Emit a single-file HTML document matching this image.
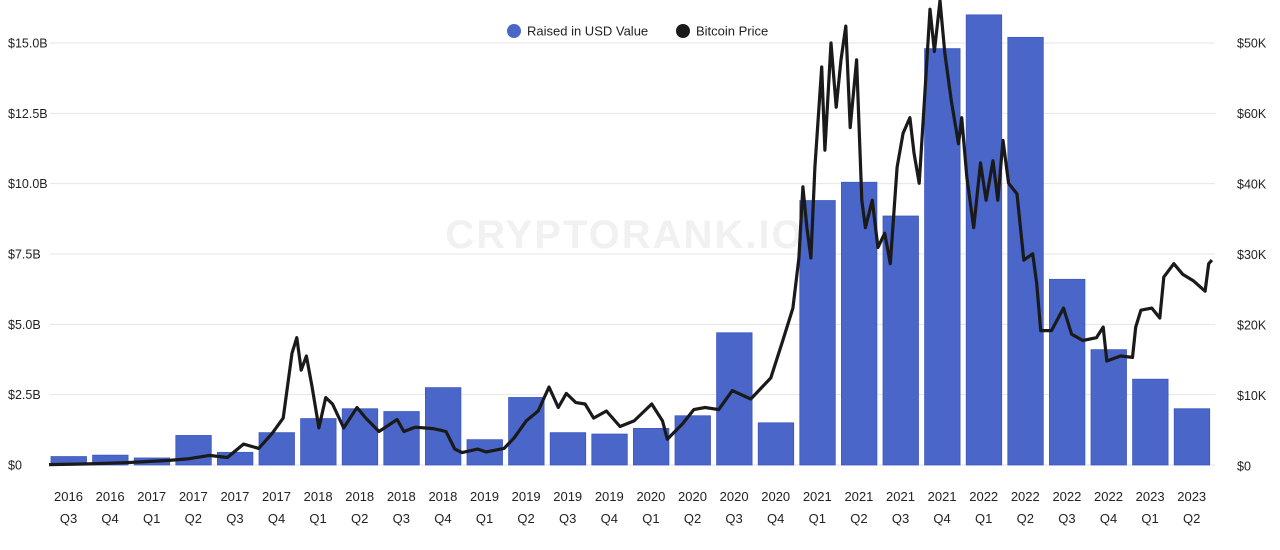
<!DOCTYPE html>
<html><head><meta charset="utf-8"><style>
body{margin:0;background:#fff;width:1280px;height:545px;overflow:hidden;font-family:"Liberation Sans",sans-serif}
svg text{font-family:"Liberation Sans",sans-serif}
</style></head><body>
<svg id="chart" width="1280" height="545" xmlns="http://www.w3.org/2000/svg">
<text x="625" y="248" text-anchor="middle" font-size="40" font-weight="bold" fill="#f1f1f1" letter-spacing="2">CRYPTORANK.IO</text>
<g id="grid"></g><g id="bars"></g><g id="line"></g><g id="axes"></g>
<g>
<g><circle cx="514" cy="31" r="7" fill="#4a66c8"/><text x="527" y="35.5" font-size="13" fill="#222">Raised in USD Value</text></g>
<g><circle cx="683" cy="31" r="7" fill="#1a1a1a"/><text x="696" y="35.5" font-size="13" fill="#222">Bitcoin Price</text></g>
</g>
</svg>
<script>
const years=["2016","2016","2017","2017","2017","2017","2018","2018","2018","2018","2019","2019","2019","2019","2020","2020","2020","2020","2021","2021","2021","2021","2022","2022","2022","2022","2023","2023"];
const quarters=["Q3","Q4","Q1","Q2","Q3","Q4","Q1","Q2","Q3","Q4","Q1","Q2","Q3","Q4","Q1","Q2","Q3","Q4","Q1","Q2","Q3","Q4","Q1","Q2","Q3","Q4","Q1","Q2"];
const raised=[0.3,0.35,0.25,1.05,0.45,1.15,1.65,2.0,1.9,2.75,0.9,2.4,1.15,1.1,1.3,1.75,4.7,1.5,9.4,10.05,8.85,14.8,16.0,15.2,6.6,4.1,3.05,2.0];
const leftTicks=[0,2.5,5,7.5,10,12.5,15];
const leftLabels=["$0","$2.5B","$5.0B","$7.5B","$10.0B","$12.5B","$15.0B"];
const rightTicks=[0,10,20,30,40,50,60];
const rightLabels=["$0","$10K","$20K","$30K","$40K","$60K","$50K"];
const priceT=[0,1,2,3,3.45,4.0,4.45,4.85,5.23,5.56,5.84,6.06,6.18,6.29,6.42,6.56,6.73,6.9,7.07,7.35,7.68,7.9,8.23,8.68,8.85,9.13,9.58,9.9,10.12,10.3,10.69,10.9,11.35,11.6,11.9,12.2,12.47,12.7,12.9,13.14,13.37,13.58,13.9,14.24,14.59,15.03,15.3,15.42,15.8,16.08,16.36,16.7,17.04,17.5,18.0,18.3,18.55,18.7,18.8,18.9,19.0,19.1,19.27,19.35,19.5,19.63,19.75,19.87,19.98,20.14,20.27,20.36,20.53,20.67,20.84,20.98,21.15,21.3,21.47,21.57,21.7,21.83,21.97,22.08,22.22,22.34,22.5,22.68,22.76,22.89,23.06,23.23,23.37,23.54,23.66,23.79,23.93,24.14,24.31,24.53,24.63,24.73,25.0,25.3,25.5,25.78,26.12,26.29,26.38,26.72,27.02,27.1,27.23,27.5,27.7,27.8,28.05,28.27,28.53,28.83,28.92,29.0];
const priceK=[0.2,0.3,0.5,0.8,1.0,1.5,1.2,3.1,2.5,4.6,6.8,16,18.2,13.6,15.6,11.2,5.4,9.7,8.8,5.4,8.3,6.8,4.9,6.6,4.9,5.5,5.3,4.9,2.4,1.9,2.4,2.0,2.5,4.0,6.4,7.8,11.2,8.3,10.3,9.0,8.8,6.8,7.8,5.6,6.4,8.8,6.4,3.8,6.0,8.0,8.3,8.0,10.7,9.5,12.5,17.8,22.4,29.5,39.6,33.8,29.5,42.4,56.6,44.8,60,50.9,57.6,62.4,48,57.6,37.7,33.8,37.7,31,33,28.7,42.4,47.2,49.4,44.4,40.1,51.8,64.8,58.8,66,58.6,51.8,45.7,49.4,40.9,33.8,43,37.7,43.3,37.7,46.2,40.1,38.6,29.2,30.1,25.9,19.2,19.2,22.4,18.7,17.8,18.2,19.7,14.9,15.6,15.4,19.7,22.1,22.4,21,26.8,28.7,27.2,26.3,24.8,28.7,29.2];

const NS="http://www.w3.org/2000/svg";
const yL=v=>465-v*(422/15);
const yR=v=>466-v*7.05;
const xT=t=>49+t*40.1;
const xBar=i=>51+i*41.6;
function mk(tag,attrs,parent){const e=document.createElementNS(NS,tag);for(const k in attrs)e.setAttribute(k,attrs[k]);parent.appendChild(e);return e;}
const grid=document.getElementById('grid'),bars=document.getElementById('bars'),line=document.getElementById('line'),axes=document.getElementById('axes');
leftTicks.forEach((v,i)=>{
  const g=mk('line',{x1:50,x2:1215,y1:yL(v),y2:yL(v),stroke:'#e6e6e6','stroke-width':1},grid);
  
  
  const t=mk('text',{x:8,y:yL(v)+4.5,'font-size':12.5,fill:'#222'},axes);t.textContent=leftLabels[i];
  
  
});
rightTicks.forEach((v,i)=>{
  const t=mk('text',{x:1237,y:yR(v)+4.5,'font-size':12.5,fill:'#222'},axes);t.textContent=rightLabels[i];
  
  
});
raised.forEach((v,i)=>{
  const r=mk('rect',{x:xBar(i),y:yL(v),width:35.5,height:465-yL(v),fill:'#4a66c8',stroke:'#3d58c0','stroke-width':0.8},bars);
  
  
  const cx=xBar(i)+17.5;
  const a=mk('text',{x:cx,y:501,'text-anchor':'middle','font-size':13,fill:'#222'},axes);a.textContent=years[i];
  
  
  const b=mk('text',{x:cx,y:523,'text-anchor':'middle','font-size':13,fill:'#222'},axes);b.textContent=quarters[i];
  
  
});
let d='';priceT.forEach((t,i)=>{d+=(i?'L':'M')+xT(t).toFixed(1)+','+yR(priceK[i]).toFixed(1);});
const p=mk('path',{d:d,fill:'none',stroke:'#1a1a1a','stroke-width':3.2,'stroke-linejoin':'round'},line);


</script>
</body></html>
